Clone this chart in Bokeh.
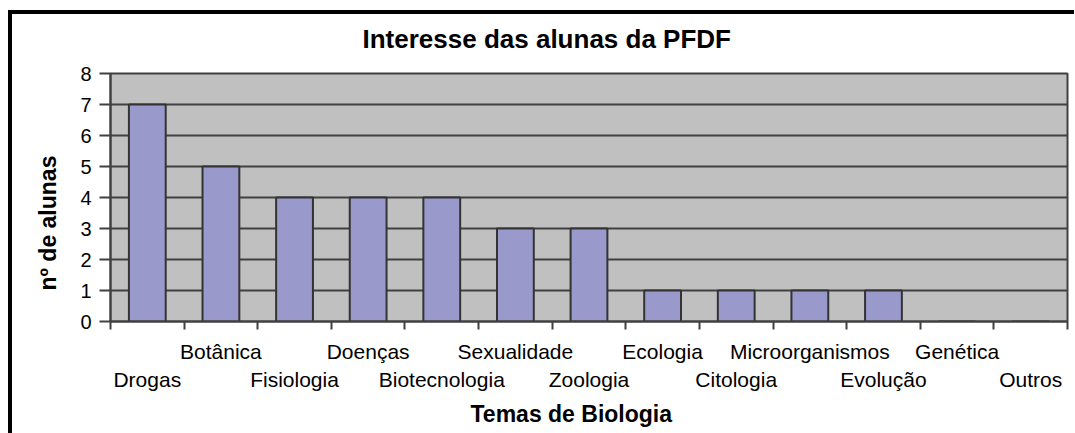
import numpy as np
from bokeh.plotting import figure
from bokeh.models import FixedTicker, LinearAxis, Title, Range1d
from bokeh.embed import file_html
from bokeh.resources import INLINE

# ---- data ----
categories = ["Drogas", "Botânica", "Fisiologia", "Doenças", "Biotecnologia",
              "Sexualidade", "Zoologia", "Ecologia", "Citologia",
              "Microorganismos", "Evolução", "Genética", "Outros"]
counts = [7, 5, 4, 4, 4, 3, 3, 1, 1, 1, 1, 0, 0]
y_ticks = [0, 1, 2, 3, 4, 5, 6, 7, 8]
title_text = "Interesse das alunas da PFDF"
x_title = "Temas de Biologia"
y_title = "nº de alunas"

n = len(categories)
centers = [i + 0.5 for i in range(n)]
FONT = "Liberation Sans"
DARK = "#404040"

p = figure(width=1066, height=433,
           x_range=Range1d(0, n), y_range=Range1d(0, y_ticks[-1]),
           output_backend="svg", toolbar_location=None,
           min_border_left=102, min_border_right=7,
           min_border_top=73, min_border_bottom=112,
           background_fill_color="#C0C0C0", border_fill_color=None,
           outline_line_color=DARK, outline_line_width=2)
# chart-box frame (top and left black rules) painted behind the canvas
p.styles = {"margin-left": "8px",
            "background-color": "white",
            "background-image": "linear-gradient(#000,#000), linear-gradient(#000,#000)",
            "background-size": "100% 4px, 4px 100%",
            "background-position": "0 10px, 0 10px",
            "background-repeat": "no-repeat"}

p.vbar(x=centers, top=counts, bottom=0, width=0.5,
       fill_color="#9999CC", line_color="#333333", line_width=2)

# title
p.title.text = title_text
p.title.align = "left"
p.title.offset = 252
p.title.text_font = FONT
p.title.text_font_size = "26px"
p.title.text_font_style = "bold"
p.title.text_color = "black"
p.title.standoff = 40

# y axis
ya = p.yaxis[0]
ya.ticker = FixedTicker(ticks=y_ticks)
ya.major_tick_out = 11
ya.major_tick_in = 0
ya.minor_tick_line_color = None
ya.major_tick_line_color = DARK
ya.major_tick_line_width = 2
ya.axis_line_color = DARK
ya.axis_line_width = 2
ya.major_label_standoff = 8
ya.major_label_text_font = FONT
ya.major_label_text_font_size = "20px"
ya.major_label_text_color = "black"

p.ygrid.ticker = FixedTicker(ticks=y_ticks)
p.ygrid.grid_line_color = DARK
p.ygrid.grid_line_width = 2
p.xgrid.grid_line_color = None

# main x axis: ticks at category boundaries, no labels
xa = p.xaxis[0]
xa.ticker = FixedTicker(ticks=list(range(n + 1)))
xa.major_tick_out = 8
xa.major_tick_in = 0
xa.minor_tick_line_color = None
xa.major_tick_line_color = DARK
xa.major_tick_line_width = 2
xa.axis_line_color = DARK
xa.axis_line_width = 2
xa.major_label_text_font_size = "1px"
xa.major_label_text_alpha = 0
xa.major_label_standoff = 0

def label_axis(idx, standoff):
    ax = LinearAxis(ticker=FixedTicker(ticks=[centers[i] for i in idx]),
                    major_label_overrides={centers[i]: categories[i] for i in idx},
                    axis_line_color=None, major_tick_line_color=None,
                    minor_tick_line_color=None, major_tick_out=0, major_tick_in=0,
                    major_label_standoff=standoff,
                    major_label_text_font=FONT, major_label_text_font_size="21px",
                    major_label_text_color="black")
    p.add_layout(ax, "below")
    return ax

label_axis([i for i in range(n) if i % 2 == 1], 10)
label_axis([i for i in range(n) if i % 2 == 0], 2)

p.add_layout(Title(text=x_title, align="left", offset=360, standoff=11,
                   text_font=FONT, text_font_size="23px", text_font_style="bold",
                   text_color="black"), "below")
p.add_layout(Title(text=y_title, align="left", offset=31, standoff=33,
                   text_font=FONT, text_font_size="23px", text_font_style="bold",
                   text_color="black"), "left")

open("out.html", "w").write(file_html(p, INLINE))
